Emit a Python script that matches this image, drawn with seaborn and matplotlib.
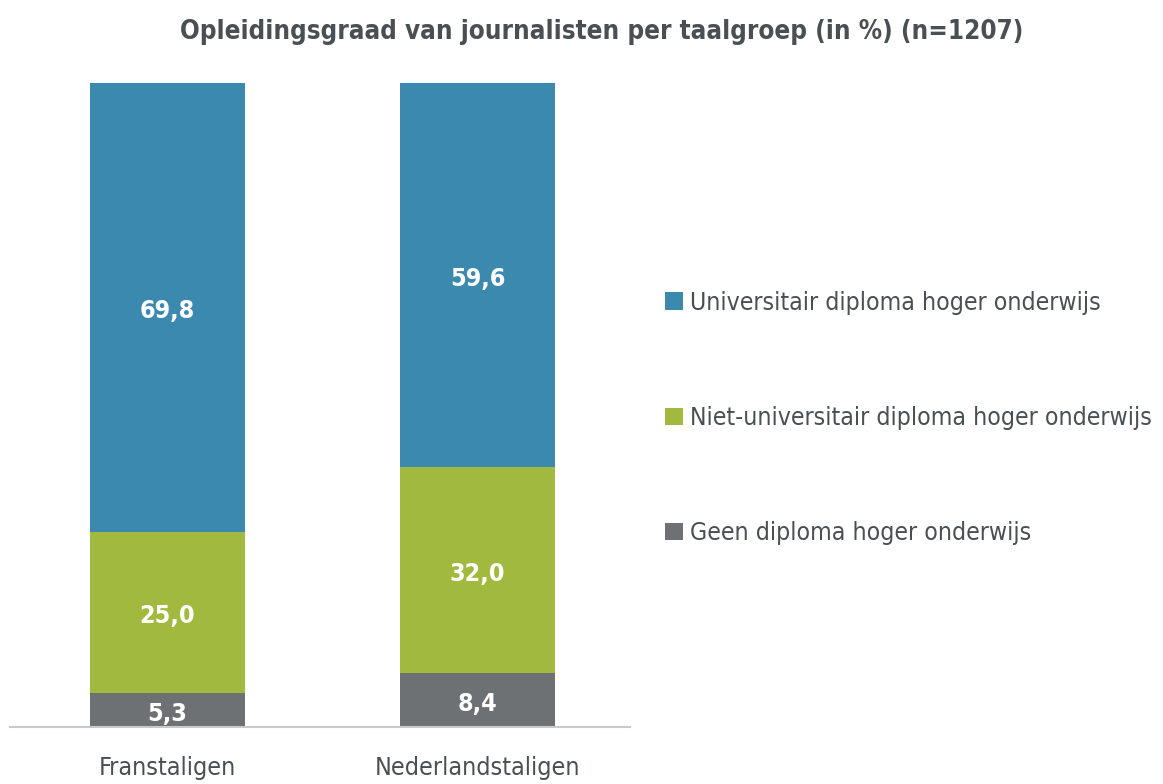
import matplotlib
matplotlib.use("Agg")
import matplotlib.pyplot as plt
import seaborn as sns
import pandas as pd

categories = ["Franstaligen", "Nederlandstaligen"]
series_names = ["Geen diploma hoger onderwijs",
                "Niet-universitair diploma hoger onderwijs",
                "Universitair diploma hoger onderwijs"]
geen = [5.3, 8.4]
niet_univ = [25.0, 32.0]
univ = [69.8, 59.6]
value_labels = {"geen": ["5,3", "8,4"], "niet": ["25,0", "32,0"], "univ": ["69,8", "59,6"]}
title = "Opleidingsgraad van journalisten per taalgroep (in %) (n=1207)"

colors = ["#6D7174", "#A1B93F", "#3C89B0"]
text_color = "#4A4F54"

sns.set_theme(style="white")
plt.rcParams['font.family'] = ['DejaVu Sans']
FONT = dict(family='DejaVu Sans', stretch='condensed')

fig = plt.figure(figsize=(11.63, 7.84), dpi=100)
ax = fig.add_axes([10/1163, 1-727/784, 620/1163, (727-83)/784])

bottom = [0, 0]
series = [geen, niet_univ, univ]
keys = ["geen", "niet", "univ"]
for name, vals, col, key in zip(series_names, series, colors, keys):
    df = pd.DataFrame({"cat": categories, "val": vals})
    sns.barplot(data=df, x="cat", y="val", bottom=bottom, color=col, width=0.5,
                label=name, ax=ax, saturation=1, edgecolor="none", linewidth=0)
    for i, (v, b) in enumerate(zip(vals, bottom)):
        ax.text(i, b + v/2 - 0.6, value_labels[key][i], ha="center", va="center",
                color="white", fontsize=18, fontweight="bold", **FONT)
    bottom = [b + v for b, v in zip(bottom, vals)]

ax.set_xlim(-0.508, 1.492)
ax.set_ylim(0, 100)
ax.set_yticks([])
ax.set_xlabel("")
ax.set_ylabel("")
for s in ["top", "right", "left"]:
    ax.spines[s].set_visible(False)
ax.spines["bottom"].set_color("#C9C9C9")
ax.spines["bottom"].set_linewidth(1.5)
ax.tick_params(axis="x", length=0, pad=21)
for lbl in ax.get_xticklabels():
    lbl.set_fontsize(18)
    lbl.set_color(text_color)
    lbl.set_fontstretch('condensed')

handles, labels = ax.get_legend_handles_labels()
leg = fig.legend(handles[::-1], labels[::-1], loc="center left",
                 bbox_to_anchor=(643/1163, 1-418/784), frameon=False,
                 handlelength=0.7, handleheight=0.7, handletextpad=0.3,
                 labelspacing=3.7, prop=dict(size=17.8, family='DejaVu Sans', stretch='condensed'))
for t in leg.get_texts():
    t.set_color(text_color)
if ax.get_legend():
    ax.get_legend().remove()

fig.text(602/1163, 1-32/784, title, ha="center", va="center", fontsize=18.6,
         fontweight="bold", color=text_color, **FONT)

fig.savefig("out.png", dpi=100, facecolor="white")
